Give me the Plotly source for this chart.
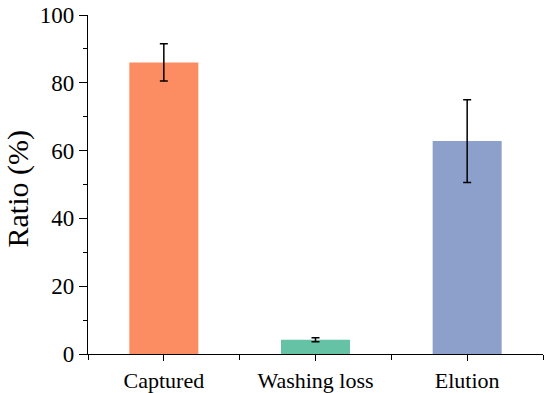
import plotly.graph_objects as go

categories = ["Captured", "Washing loss", "Elution"]
values = [86.0, 4.2, 62.8]
errors = [5.5, 0.6, 12.2]
colors = ["#FC8D62", "#66C2A5", "#8DA0CB"]

fig = go.Figure()
fig.add_trace(go.Bar(
    x=list(range(len(categories))),
    y=values,
    width=0.455,
    marker=dict(color=colors, line=dict(width=0)),
    error_y=dict(type="data", array=errors, visible=True, color="black", thickness=1.5, width=4),
))

font_family = "Liberation Serif, Times New Roman, serif"
fig.update_layout(
    width=550, height=393,
    margin=dict(l=88, r=7, t=15, b=39),
    plot_bgcolor="white", paper_bgcolor="white",
    showlegend=False,
    font=dict(family=font_family, size=23, color="black"),
    xaxis=dict(
        range=[-0.5, 2.5], automargin=False,
        tickmode="array", tickvals=list(range(len(categories))), ticktext=categories,
        ticks="outside", ticklen=6, tickwidth=1.3, tickcolor="black",
        showline=True, linecolor="black", linewidth=1.3,
        showgrid=False, zeroline=False,
        minor=dict(tick0=0.5, dtick=1, ticks="outside", ticklen=5, tickwidth=1.3, tickcolor="black", showgrid=False),
        tickfont=dict(size=22),
    ),
    yaxis=dict(
        range=[0, 100], automargin=False,
        tickmode="linear", tick0=0, dtick=20,
        ticks="outside", ticklen=8, tickwidth=1.3, tickcolor="black",
        showline=True, linecolor="black", linewidth=1.3,
        showgrid=False, zeroline=False,
        minor=dict(dtick=10, ticks="outside", ticklen=4, tickwidth=1.3, tickcolor="black", showgrid=False),
        tickfont=dict(size=23),
        ticklabeloverflow="allow",
    ),
    annotations=[dict(
        text="Ratio (%)", textangle=-90, showarrow=False,
        xref="paper", yref="paper", x=0, y=0.5, xanchor="center", yanchor="middle",
        xshift=-71, yshift=-5, font=dict(size=30),
    )],
)

fig.write_html("out.html", config={"displayModeBar": False},
               post_script="document.body.style.margin='0';")
